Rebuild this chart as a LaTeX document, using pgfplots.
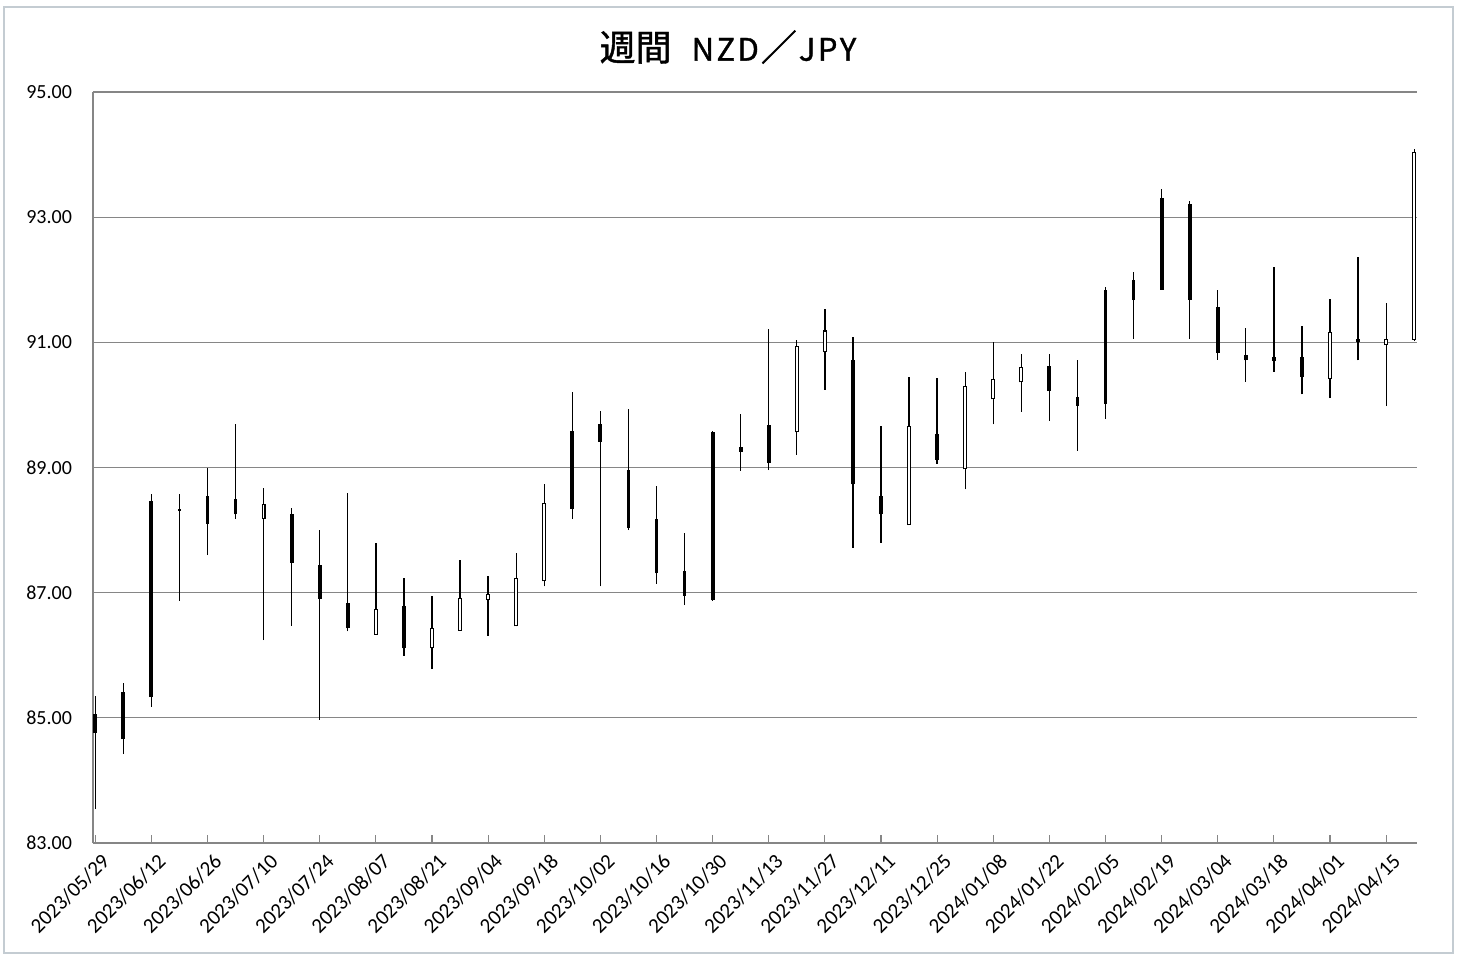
\documentclass[border=0pt]{standalone}
\usepackage{pgfplots}
\usepackage{pgfplotstable}
\pgfplotsset{compat=1.18}
\usepackage{fontspec}
\setmainfont{Carlito}
\newfontfamily\jpfont[AutoFakeBold=1.2]{Noto Sans CJK JP}
\definecolor{gridgray}{RGB}{134,134,134}
\definecolor{framegray}{RGB}{196,204,210}

\pgfplotstableread{
i hi lo bt bb f
0 85.35 83.54 85.06 84.76 1
1 85.56 84.42 85.42 84.66 1
2 88.57 85.18 88.46 85.33 1
3 88.58 86.87 88.34 88.31 1
4 88.99 87.60 88.54 88.10 1
5 89.70 88.18 88.49 88.25 1
6 88.68 86.24 88.42 88.18 0
7 88.36 86.47 88.26 87.48 1
8 88.00 84.97 87.45 86.90 1
9 88.60 86.38 86.84 86.43 1
10 87.80 86.33 86.74 86.33 0
11 87.24 85.99 86.78 86.11 1
12 86.95 85.78 86.44 86.11 0
13 87.53 86.39 86.92 86.39 0
14 87.27 86.31 86.98 86.88 0
15 87.64 86.46 87.23 86.46 0
16 88.74 87.10 88.44 87.18 0
17 90.20 88.18 89.59 88.34 1
18 89.90 87.10 89.69 89.41 1
19 89.93 88.00 88.96 88.04 1
20 88.70 87.14 88.17 87.31 1
21 87.96 86.80 87.34 86.95 1
22 89.58 86.87 89.56 86.88 1
23 89.86 88.95 89.32 89.25 1
24 91.21 88.96 89.68 89.07 1
25 91.03 89.20 90.94 89.56 0
26 91.53 90.24 91.19 90.84 0
27 91.08 87.72 90.72 88.73 1
28 89.66 87.80 88.55 88.25 1
29 90.44 88.08 89.66 88.08 0
30 90.43 89.06 89.53 89.12 1
31 90.52 88.65 90.30 88.97 0
32 91.00 89.69 90.42 90.09 0
33 90.81 89.89 90.60 90.36 0
34 90.81 89.75 90.62 90.22 1
35 90.72 89.27 90.12 89.99 1
36 91.88 89.78 91.83 90.02 1
37 92.12 91.06 92.00 91.68 1
38 93.45 91.84 93.31 91.84 1
39 93.26 91.05 93.21 91.68 1
40 91.84 90.72 91.56 90.83 1
41 91.23 90.37 90.79 90.71 1
42 92.20 90.53 90.76 90.70 1
43 91.26 90.17 90.76 90.45 1
44 91.70 90.11 91.16 90.42 0
45 92.36 90.71 91.06 91.01 1
46 91.63 89.98 91.06 90.95 0
47 94.09 91.02 94.04 91.04 0
}\candles

\begin{document}
\begin{tikzpicture}
\useasboundingbox (0,0) rectangle (730pt,480pt);
\fill[white] (0,0) rectangle (730pt,480pt);
\draw[framegray, line width=0.8pt] (2pt,3.5pt) rectangle (726.5pt,476.5pt);
\node[font=\jpfont\bfseries, inner sep=0pt] at (364pt,456.5pt) {{\fontsize{18}{20}\selectfont 週間}\hspace{10pt}{\fontsize{15.5}{18}\selectfont N\kern1.2pt Z\kern1.2pt D}\hspace{1pt}{\fontsize{18}{20}\selectfont ／}\hspace{1pt}{\fontsize{15.5}{18}\selectfont J\kern1.2pt P\kern1.2pt Y}};
\begin{axis}[
  at={(46.5pt,58.5pt)}, anchor=south west,
  scale only axis, width=662pt, height=375.5pt,
  xmin=-0.08, xmax=47.1, ymin=83, ymax=95,
  axis lines*=left,
  axis line style={draw=gridgray, line width=0.6pt, -},
  ymajorgrids, grid style={draw=gridgray, line width=0.6pt},
  ytick={83,85,87,89,91,93,95},
  yticklabel style={/pgf/number format/fixed, /pgf/number format/fixed zerofill, /pgf/number format/precision=2, /pgf/number format/assume math mode=true, font=\fontsize{10}{12}\selectfont, xshift=-7pt},
  ytick style={draw=none},
  xtick={0,2,...,46},
  xticklabels={2023/05/29,2023/06/12,2023/06/26,2023/07/10,2023/07/24,2023/08/07,2023/08/21,2023/09/04,2023/09/18,2023/10/02,2023/10/16,2023/10/30,2023/11/13,2023/11/27,2023/12/11,2023/12/25,2024/01/08,2024/01/22,2024/02/05,2024/02/19,2024/03/04,2024/03/18,2024/04/01,2024/04/15},
  xticklabel style={font=\fontsize{10.5}{12}\selectfont, rotate=45, anchor=east, xshift=2pt, yshift=-9pt},
  x tick style={draw=gridgray, line width=0.6pt},
  tick align=inside, major tick length=4pt,
  clip=false,
]
% wicks
\addplot[draw=none, mark=none, forget plot,
  error bars/.cd, y dir=plus, y explicit, error mark=none,
  error bar style={draw=black, solid, line width=0.65pt}]
  table[x=i, y=lo, y error expr=\thisrow{hi}-\thisrow{lo}] {\candles};
% bodies (black outline / fill)
\addplot[draw=none, mark=none, forget plot,
  error bars/.cd, y dir=plus, y explicit, error mark=none,
  error bar style={draw=black, solid, line width=1.9pt}]
  table[x=i, y=bb, y error expr=\thisrow{bt}-\thisrow{bb}] {\candles};
% hollow body interiors
\addplot[draw=none, mark=none, forget plot,
  error bars/.cd, y dir=plus, y explicit, error mark=none,
  error bar style={draw=white, solid, line width=0.85pt}]
  table[x=i, y expr={\thisrow{f}==0 ? \thisrow{bb}+0.017 : nan}, y error expr=\thisrow{bt}-\thisrow{bb}-0.034] {\candles};
\end{axis}
\end{tikzpicture}
\end{document}
